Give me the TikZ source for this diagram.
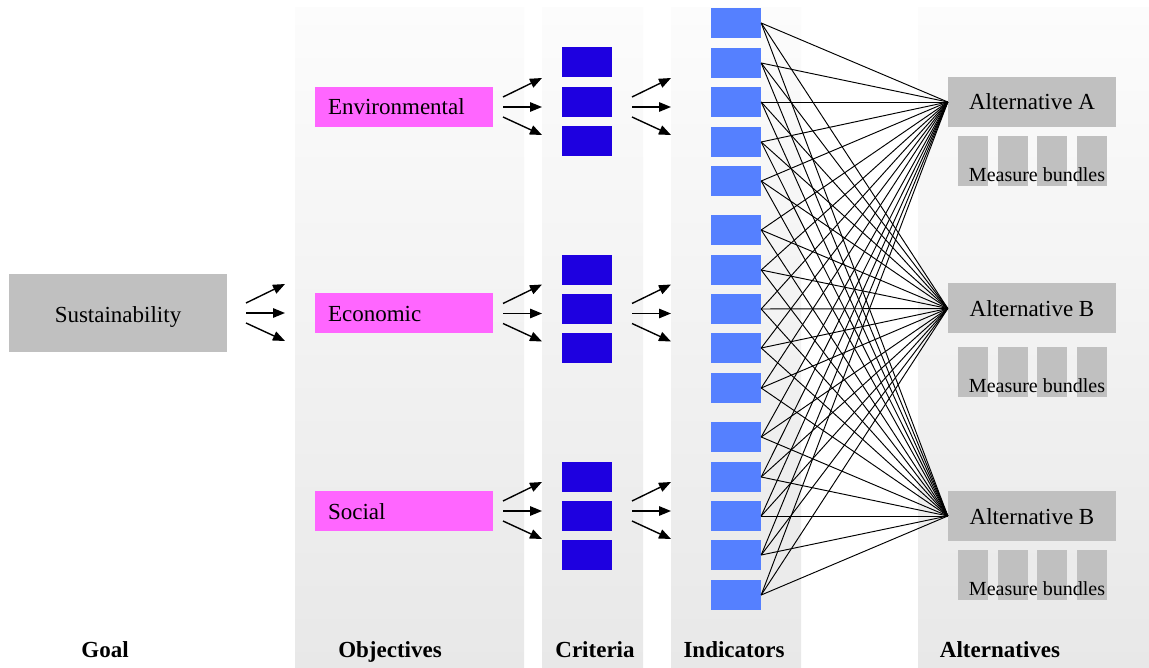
\documentclass[tikz,border=0pt]{standalone}
\usepackage{fontspec}
\setmainfont{Liberation Serif}
\usetikzlibrary{arrows.meta,calc}
\definecolor{objpink}{HTML}{FF66FF}
\definecolor{critblue}{HTML}{1E00E0}
\definecolor{indblue}{HTML}{5580FF}
\definecolor{boxgray}{HTML}{C0C0C0}
\definecolor{bandtop}{HTML}{FCFCFC}
\definecolor{bandbot}{HTML}{E8E8E8}
% three diverging arrows starting at a named fan point
\newcommand\fanarrows[1]{%
  \draw[fan] ($(#1)+(0,-10)$) -- ($(#1)+(39,-29)$);
  \draw[fan] (#1) -- ($(#1)+(39,0)$);
  \draw[fan] ($(#1)+(0,10)$) -- ($(#1)+(39,28)$);
}
\begin{document}
\begin{tikzpicture}[x=1pt,y=-1pt,
  font=\fontsize{23}{25}\selectfont,
  tx/.style={text height=16pt,text depth=0pt},
  band/.style={draw=none,top color=bandtop,bottom color=bandbot},
  goalbox/.style={fill=boxgray,minimum width=218,minimum height=78,inner sep=0,
                  text height=20pt,text depth=0pt},
  objbox/.style={tx,fill=objpink,text width=152pt,inner xsep=13pt,inner ysep=0pt,
                 minimum height=40,align=left},
  critbox/.style={fill=critblue,minimum width=50,minimum height=30,inner sep=0},
  indbox/.style={fill=indblue,minimum width=50,minimum height=30,inner sep=0},
  altbox/.style={tx,fill=boxgray,minimum width=168,minimum height=50,inner sep=0},
  mbox/.style={fill=boxgray,minimum width=30,minimum height=50,inner sep=0},
  mtext/.style={font=\fontsize{20}{22}\selectfont,inner sep=0},
  link/.style={line width=0.95pt},
  fan/.style={line width=1.4pt,-{Triangle[length=12pt,width=9.5pt]}},
  colhead/.style={tx,font=\fontsize{23}{25}\selectfont\bfseries,inner sep=0}
]
\useasboundingbox (0,0) rectangle (1149,668);
\fill[white] (0,0) rectangle (1149,668);

% shaded column bands
\fill[band] (295,8) rectangle (524,668);
\fill[band] (542,8) rectangle (643,668);
\fill[band] (671,8) rectangle (801,668);
\fill[band] (918,8) rectangle (1149,668);

% goal
\node[goalbox] (goal) at (118,313) {Sustainability};

% objectives
\node[objbox] (objE) at (404,107) {Environmental};
\node[objbox] (objC) at (404,313.5) {Economic};
\node[objbox] (objS) at (404,511) {Social};

% criteria
\foreach \y [count=\k] in {62,102,141,270,309,348,477,516,555}
  \node[critbox] (c\k) at (587,\y) {};

% indicators
\foreach \y [count=\k] in {23,63,102,142,181,230,270,309,348,388,437,477,516,555,595}
  \node[indbox] (i\k) at (736,\y) {};

% alternatives and their measure bundles
\foreach \n/\t/\y/\my in {altA/Alternative A/102/161, altB/Alternative B/308.5/372, altC/Alternative B/516/574.5}{
  \node[altbox] (\n) at (1032,\y) {\t};
  \foreach \x [count=\m] in {973,1013,1052,1092}
    \node[mbox] (\n-m\m) at (\x,\my) {};
  \node[mtext] (\n-lbl) at (1037,\my+14) {Measure bundles};
}

% indicator-to-alternative links
\foreach \k in {1,...,15}
  \foreach \a in {altA,altB,altC}
    \draw[link] (i\k.east) -- (\a.west);

% arrow fans
\coordinate (fG) at (246,313);
\coordinate (fE) at (503,107);
\coordinate (fC) at (503,313.5);
\coordinate (fS) at (503,511);
\coordinate (gE) at (632,107);
\coordinate (gC) at (632,313.5);
\coordinate (gS) at (632,511);
\foreach \f in {fG,fE,fC,fS,gE,gC,gS}{\fanarrows{\f}}

% column headings
\node[colhead] (hGoal) at (105,649) {Goal};
\node[colhead] (hObj) at (390,649) {Objectives};
\node[colhead] (hCrit) at (595,649) {Criteria};
\node[colhead] (hInd) at (734,649) {Indicators};
\node[colhead] (hAlt) at (1000,649) {Alternatives};
\end{tikzpicture}
\end{document}
